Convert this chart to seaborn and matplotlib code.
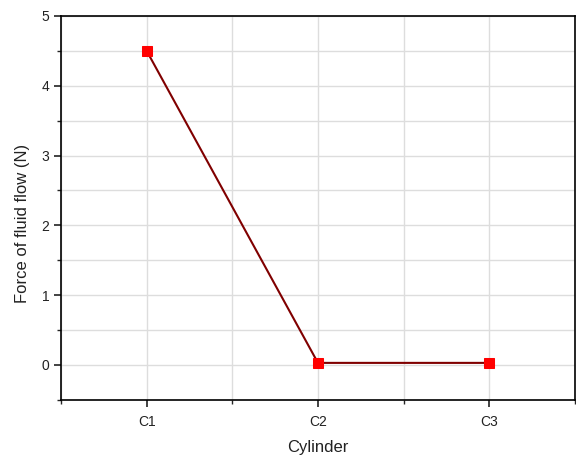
import numpy as np
import pandas as pd
import matplotlib
matplotlib.use('Agg')
import matplotlib.pyplot as plt
from matplotlib.ticker import MultipleLocator
import seaborn as sns

cylinders = ['C1', 'C2', 'C3']
force = [4.5, 0.03, 0.03]

df = pd.DataFrame({'pos': [1, 2, 3], 'cylinder': cylinders, 'force': force})

sns.set_style('white')
plt.rcParams['font.family'] = ['Liberation Sans', 'DejaVu Sans']

fig = plt.figure(figsize=(5.76, 4.57), dpi=100)
ax = fig.add_axes([0.106, 0.125, 0.892, 0.84])

sns.lineplot(x='pos', y='force', data=df, ax=ax, color='#800000', linewidth=1.5,
             marker='s', markersize=6.5, markerfacecolor='red', markeredgecolor='red')

ax.set_xlim(0.5, 3.5)
ax.set_ylim(-0.5, 5)
ax.set_xticks(df['pos'])
ax.set_xticklabels(cylinders)
ax.xaxis.set_minor_locator(MultipleLocator(0.5))
ax.yaxis.set_major_locator(MultipleLocator(1))
ax.yaxis.set_minor_locator(MultipleLocator(0.5))

ax.grid(True, which='both', color='#dddddd', linewidth=1)
ax.set_axisbelow(True)
for s in ax.spines.values():
    s.set_color('black')
    s.set_linewidth(1.2)

ax.tick_params(which='major', direction='out', length=5, width=1.2, labelsize=10,
               left=True, bottom=True, colors='#222222')
ax.tick_params(which='minor', direction='out', length=3, width=1, left=True, bottom=True)
ax.tick_params(axis='x', pad=6)

ax.set_xlabel('Cylinder', fontsize=12, labelpad=8, color='#222222')
ax.set_ylabel('Force of fluid flow (N)', fontsize=12, color='#222222')
ax.yaxis.set_label_coords(-0.061, 0.46)

fig.savefig('out.png', dpi=100)
